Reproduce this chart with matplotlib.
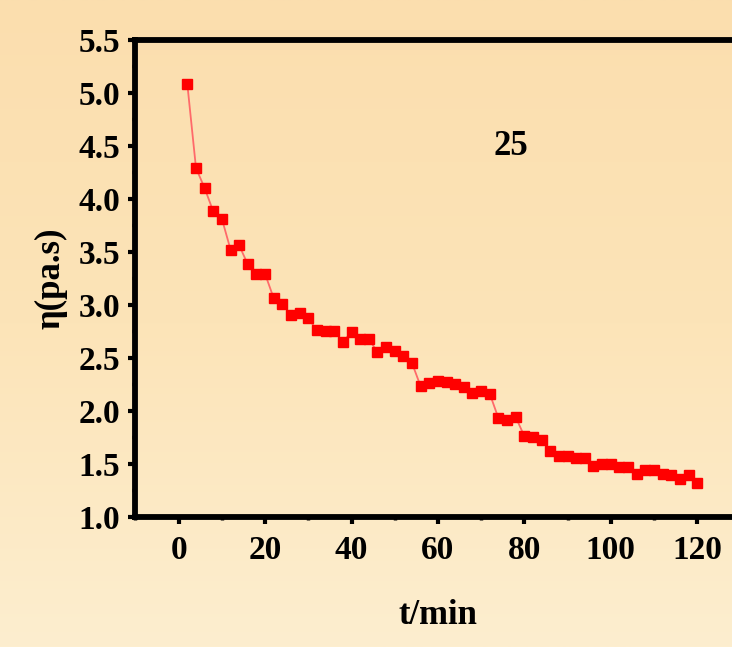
import numpy as np
import matplotlib
matplotlib.use("Agg")
import matplotlib.pyplot as plt
from matplotlib.colors import LinearSegmentedColormap
from matplotlib.ticker import MultipleLocator

# viscosity vs time at 25 C
t_min = [2, 4, 6, 8, 10, 12, 14, 16, 18, 20,
         22, 24, 26, 28, 30, 32, 34, 36, 38, 40,
         42, 44, 46, 48, 50, 52, 54, 56, 58, 60,
         62, 64, 66, 68, 70, 72, 74, 76, 78, 80,
         82, 84, 86, 88, 90, 92, 94, 96, 98, 100,
         102, 104, 106, 108, 110, 112, 114, 116, 118, 120]
eta = [5.08, 4.29, 4.10, 3.88, 3.81, 3.52, 3.56, 3.38, 3.29, 3.29,
       3.06, 3.01, 2.90, 2.92, 2.87, 2.76, 2.75, 2.75, 2.65, 2.74,
       2.68, 2.68, 2.55, 2.60, 2.56, 2.52, 2.45, 2.23, 2.26, 2.28,
       2.27, 2.25, 2.22, 2.17, 2.19, 2.16, 1.93, 1.91, 1.94, 1.76,
       1.75, 1.72, 1.62, 1.57, 1.57, 1.55, 1.55, 1.48, 1.50, 1.50,
       1.47, 1.47, 1.40, 1.44, 1.44, 1.40, 1.39, 1.36, 1.39, 1.32]
x_ticks = [0, 20, 40, 60, 80, 100, 120]
y_ticks = [1.0, 1.5, 2.0, 2.5, 3.0, 3.5, 4.0, 4.5, 5.0, 5.5]

plt.rcParams['font.family'] = ['Liberation Serif', 'DejaVu Serif']
plt.rcParams['font.weight'] = 'bold'

fig = plt.figure(figsize=(7.32, 6.47), dpi=100)

# background gradient (orange-ish top, lighter bottom)
bg = fig.add_axes([0, 0, 1, 1], zorder=-1)
cmap = LinearSegmentedColormap.from_list("bg", ["#FDEECF", "#FCE4B8", "#FBDEAE"])
grad = np.linspace(0, 1, 256).reshape(-1, 1)
bg.imshow(grad, aspect='auto', cmap=cmap, origin='lower', extent=[0, 1, 0, 1])
bg.axis('off')

ax = fig.add_axes([0.1851, 0.2014, 0.8263, 0.7372])
ax.set_facecolor('none')

ax.plot(t_min, eta, color='#FF6A6A', lw=1.3, marker='s', ms=7.5,
        mfc='#FF0000', mec='#FF0000', zorder=3)

ax.set_xlim(-10, 130)
ax.set_ylim(1.0, 5.5)
ax.set_xticks(x_ticks)
ax.set_yticks(y_ticks)
ax.set_yticklabels([f"{v:.1f}" for v in y_ticks])
ax.xaxis.set_minor_locator(MultipleLocator(10))
ax.yaxis.set_minor_locator(MultipleLocator(0.25))

for s in ax.spines.values():
    s.set_linewidth(4.2)
ax.tick_params(axis='both', which='major', direction='out', length=5, width=3,
               labelsize=24, pad=6)
ax.tick_params(axis='x', which='major', pad=8)
ax.tick_params(axis='both', which='minor', direction='out', length=2.5, width=2.5)
ax.tick_params(axis='y', which='major', right=True)
ax.tick_params(axis='y', which='minor', right=False)

ax.set_xlabel("t/min", fontsize=25, fontweight='bold', labelpad=24)
ax.set_ylabel("η(pa.s)", fontsize=25, fontweight='bold', labelpad=8)

ax.text(76.8, 4.49, "25", fontsize=25, fontweight='bold', ha='center', va='center')

fig.savefig("out.png", dpi=100)
